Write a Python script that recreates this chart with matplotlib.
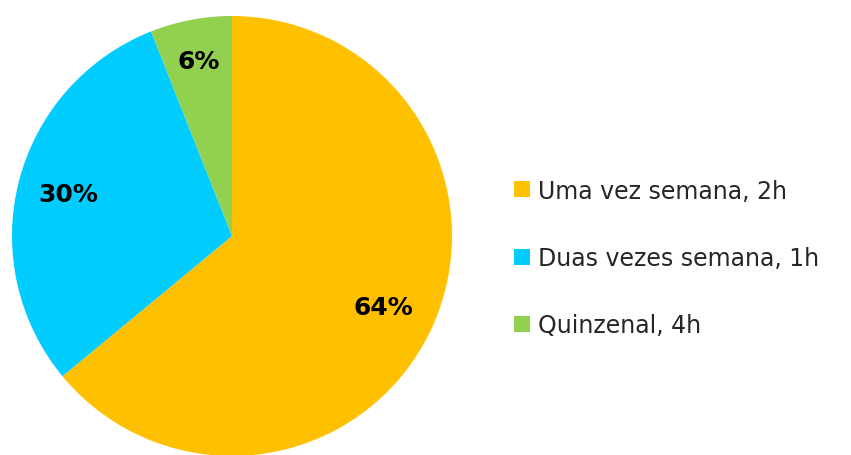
import matplotlib
matplotlib.use("Agg")
import matplotlib.pyplot as plt
from matplotlib.patches import Patch

labels = ["Uma vez semana, 2h", "Duas vezes semana, 1h", "Quinzenal, 4h"]
values = [64, 30, 6]
colors = ["#FFC000", "#00CCFF", "#92D050"]
label_dist = [0.76, 0.77, 0.81]

fig = plt.figure(figsize=(8.51, 4.56), dpi=100)
ax = fig.add_axes([12 / 851, -1 / 456, 440 / 851, 440 / 456])

wedges, texts, autotexts = ax.pie(values, colors=colors, startangle=90, counterclock=False,
                                  autopct="%d%%", pctdistance=1.0, radius=1.0,
                                  wedgeprops=dict(linewidth=0))
for t, d in zip(autotexts, label_dist):
    x, y = t.get_position()
    t.set_position((x * d, y * d))
    t.set_fontsize(18)
    t.set_fontweight("bold")
    t.set_color("black")
ax.set_xlim(-1, 1)
ax.set_ylim(-1, 1)
ax.set_aspect("equal")
ax.axis("off")

handles = [Patch(facecolor=c, edgecolor="none") for c in colors]
fig.legend(handles, labels, loc="center left", bbox_to_anchor=(514 / 851, 1 - 259 / 456),
           frameon=False, fontsize=17, handlelength=0.68, handleheight=0.68,
           labelspacing=1.84, handletextpad=0.34, borderpad=0, borderaxespad=0,
           labelcolor="#262626")

fig.savefig("out.png", dpi=100)
